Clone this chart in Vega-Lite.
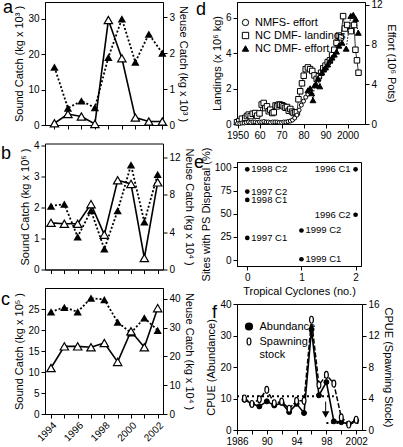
{
  "$schema": "https://vega.github.io/schema/vega-lite/v6.json",
  "padding": {"left": 0, "top": -2, "right": 0, "bottom": 0},
  "background": "white",
  "config": {
    "font": "Liberation Sans",
    "view": {"stroke": "black", "strokeWidth": 1},
    "axis": {"domainColor": "black", "domainWidth": 1, "tickColor": "black", "tickWidth": 1, "tickSize": 4, "labelColor": "black", "labelFontSize": 10, "labelPadding": 2, "titleColor": "black", "titleFontSize": 11, "titleFontWeight": "normal", "titlePadding": 3, "grid": false, "labelFlush": false, "labelOverlap": false},
    "title": {"fontSize": 18, "fontWeight": "normal", "color": "black", "anchor": "start", "frame": "group", "offset": 0, "baseline": "alphabetic"}
  },
  "datasets": {
    "a": [
      {"year": 1994, "sound": 0.5, "neuse": 1.61}, {"year": 1995, "sound": 3.1, "neuse": 0.47}, {"year": 1996, "sound": 2.4, "neuse": 0.67},
      {"year": 1997, "sound": 0.3, "neuse": 0.48}, {"year": 1998, "sound": 29.7, "neuse": 1.88}, {"year": 1999, "sound": 18.9, "neuse": 2.95},
      {"year": 2000, "sound": 2.1, "neuse": 1.75}, {"year": 2001, "sound": 1.0, "neuse": 2.53}, {"year": 2002, "sound": 1.0, "neuse": 2.0}
    ],
    "b": [
      {"year": 1994, "sound": 1.5, "neuse": 6.8}, {"year": 1995, "sound": 1.47, "neuse": 7.0}, {"year": 1996, "sound": 1.47, "neuse": 3.5},
      {"year": 1997, "sound": 2.1, "neuse": 6.3}, {"year": 1998, "sound": 1.12, "neuse": 2.2}, {"year": 1999, "sound": 2.87, "neuse": 6.3},
      {"year": 2000, "sound": 2.75, "neuse": 11.2}, {"year": 2001, "sound": 0.37, "neuse": 5.1}, {"year": 2002, "sound": 2.8, "neuse": 10.2}
    ],
    "c": [
      {"year": 1994, "sound": 10.95, "neuse": 35.5}, {"year": 1995, "sound": 16.1, "neuse": 37.1}, {"year": 1996, "sound": 16.1, "neuse": 35.5},
      {"year": 1997, "sound": 15.9, "neuse": 40.3}, {"year": 1998, "sound": 16.9, "neuse": 39.8}, {"year": 1999, "sound": 12.4, "neuse": 31.9},
      {"year": 2000, "sound": 19.7, "neuse": 28.2}, {"year": 2001, "sound": 15.9, "neuse": 33.4}, {"year": 2002, "sound": 25.2, "neuse": 29.1}
    ],
    "d_land": [
      {"year": 1949.8, "landings": 0.1}, {"year": 1950.8, "landings": 0.15}, {"year": 1952.0, "landings": 0.3}, {"year": 1953.5, "landings": 0.34},
      {"year": 1954.3, "landings": 0.45}, {"year": 1955.1, "landings": 0.53}, {"year": 1956.0, "landings": 0.45}, {"year": 1956.9, "landings": 0.58},
      {"year": 1958.0, "landings": 0.62}, {"year": 1958.9, "landings": 0.47}, {"year": 1960.0, "landings": 0.6}, {"year": 1961.0, "landings": 1.1},
      {"year": 1961.9, "landings": 1.19}, {"year": 1962.6, "landings": 0.9}, {"year": 1963.4, "landings": 1.0}, {"year": 1964.2, "landings": 0.72},
      {"year": 1964.9, "landings": 0.81}, {"year": 1965.8, "landings": 0.62}, {"year": 1966.5, "landings": 0.66}, {"year": 1967.3, "landings": 1.05},
      {"year": 1968.0, "landings": 1.0}, {"year": 1968.8, "landings": 1.1}, {"year": 1969.5, "landings": 1.09}, {"year": 1970.3, "landings": 1.06},
      {"year": 1971.0, "landings": 1.0}, {"year": 1971.8, "landings": 0.92}, {"year": 1972.5, "landings": 0.96}, {"year": 1973.3, "landings": 0.75},
      {"year": 1974.0, "landings": 0.85}, {"year": 1974.8, "landings": 0.7}, {"year": 1975.5, "landings": 0.62}, {"year": 1976.3, "landings": 0.66},
      {"year": 1977.0, "landings": 0.66}, {"year": 1977.7, "landings": 1.4}, {"year": 1978.5, "landings": 1.85}, {"year": 1979.3, "landings": 2.3},
      {"year": 1980.1, "landings": 2.73}, {"year": 1981.0, "landings": 3.1}, {"year": 1982.0, "landings": 3.2}, {"year": 1983.0, "landings": 3.1},
      {"year": 1984.0, "landings": 3.0}, {"year": 1985.0, "landings": 2.75}, {"year": 1986.0, "landings": 2.55}, {"year": 1987.0, "landings": 2.7},
      {"year": 1988.0, "landings": 2.9}, {"year": 1989.0, "landings": 3.15}, {"year": 1990.0, "landings": 3.3}, {"year": 1991.0, "landings": 3.5},
      {"year": 1992.0, "landings": 3.6}, {"year": 1993.0, "landings": 3.9}, {"year": 1994.0, "landings": 4.2}, {"year": 1995.0, "landings": 4.6},
      {"year": 1996.0, "landings": 5.0}, {"year": 1997.0, "landings": 4.9}, {"year": 1998.0, "landings": 6.1}, {"year": 1998.8, "landings": 5.4},
      {"year": 1999.9, "landings": 5.6}, {"year": 2001.5, "landings": 5.25}, {"year": 2003.0, "landings": 5.6}, {"year": 2003.6, "landings": 4.2},
      {"year": 2004.3, "landings": 3.6}, {"year": 2005.0, "landings": 2.9}
    ],
    "d_nmfs": [
      {"year": 1950, "effort": 0.05}, {"year": 1951, "effort": 0.05}, {"year": 1952, "effort": 0.1}, {"year": 1953, "effort": 0.1},
      {"year": 1954, "effort": 0.15}, {"year": 1955, "effort": 0.2}, {"year": 1956, "effort": 0.15}, {"year": 1957, "effort": 0.2},
      {"year": 1958, "effort": 0.2}, {"year": 1959, "effort": 0.15}, {"year": 1960, "effort": 0.2}, {"year": 1961, "effort": 0.2},
      {"year": 1962, "effort": 0.25}, {"year": 1963, "effort": 0.2}, {"year": 1964, "effort": 0.2}, {"year": 1965, "effort": 0.15},
      {"year": 1966, "effort": 0.2}, {"year": 1967, "effort": 0.2}, {"year": 1968, "effort": 0.2}, {"year": 1969, "effort": 0.15},
      {"year": 1970, "effort": 0.15}, {"year": 1971, "effort": 0.2}, {"year": 1972, "effort": 0.2}, {"year": 1973, "effort": 0.25},
      {"year": 1974, "effort": 0.3}, {"year": 1975, "effort": 0.4}, {"year": 1976, "effort": 0.6}, {"year": 1977, "effort": 0.9},
      {"year": 1978, "effort": 1.4}, {"year": 1979, "effort": 1.9}, {"year": 1980, "effort": 2.3}, {"year": 1981, "effort": 2.7},
      {"year": 1982, "effort": 3.0}, {"year": 1983, "effort": 3.2}
    ],
    "d_dmf": [
      {"year": 1982.0, "effort": 3.4}, {"year": 1983.0, "effort": 3.6}, {"year": 1983.7, "effort": 3.1}, {"year": 1984.3, "effort": 2.4},
      {"year": 1985.0, "effort": 3.9}, {"year": 1985.7, "effort": 4.0}, {"year": 1986.6, "effort": 4.6}, {"year": 1987.4, "effort": 3.8},
      {"year": 1988.3, "effort": 5.2}, {"year": 1989.2, "effort": 5.5}, {"year": 1990.0, "effort": 5.7}, {"year": 1991.0, "effort": 6.0},
      {"year": 1992.0, "effort": 6.4}, {"year": 1993.0, "effort": 6.7}, {"year": 1994.0, "effort": 7.0}, {"year": 1995.0, "effort": 7.3},
      {"year": 1996.1, "effort": 7.9}, {"year": 1997.5, "effort": 8.2}, {"year": 1999.4, "effort": 7.6}, {"year": 2001.5, "effort": 10.9},
      {"year": 2002.6, "effort": 11.0}, {"year": 2003.7, "effort": 10.6}, {"year": 2004.9, "effort": 9.2}
    ],
    "e": [
      {"cyclones": 0, "sites": 98, "label": "1998 C2"}, {"cyclones": 0, "sites": 74, "label": "1997 C2"},
      {"cyclones": 0, "sites": 65, "label": "1998 C1"}, {"cyclones": 0, "sites": 24, "label": "1997 C1"},
      {"cyclones": 2, "sites": 98, "label": "1996 C1"}, {"cyclones": 2, "sites": 49, "label": "1996 C2"},
      {"cyclones": 1, "sites": 32, "label": "1999 C2"}, {"cyclones": 1, "sites": 1, "label": "1999 C1"}
    ],
    "f_abund": [
      {"year": 1987, "cpue": 9.6, "series": "Abundance"}, {"year": 1988, "cpue": 8.3, "series": "Abundance"}, {"year": 1989, "cpue": 7.5, "series": "Abundance"},
      {"year": 1990, "cpue": 9.1, "series": "Abundance"}, {"year": 1991, "cpue": 7.8, "series": "Abundance"}, {"year": 1992, "cpue": 8.6, "series": "Abundance"},
      {"year": 1993, "cpue": 5.7, "series": "Abundance"}, {"year": 1994, "cpue": 8.3, "series": "Abundance"}, {"year": 1995, "cpue": 5.4, "series": "Abundance"},
      {"year": 1996, "cpue": 31.9, "series": "Abundance"}, {"year": 1997, "cpue": 11.0, "series": "Abundance"}, {"year": 1998, "cpue": 15.2, "series": "Abundance"},
      {"year": 1999, "cpue": 2.75, "series": "Abundance"}, {"year": 2000, "cpue": 2.5, "series": "Abundance"}, {"year": 2001, "cpue": 1.9, "series": "Abundance"},
      {"year": 2002, "cpue": 3.0, "series": "Abundance"}
    ],
    "f_spawn": [
      {"year": 1987, "cpue": 4.0, "series": "Spawning stock"}, {"year": 1988, "cpue": 3.3, "series": "Spawning stock"}, {"year": 1989, "cpue": 3.9, "series": "Spawning stock"},
      {"year": 1990, "cpue": 5.1, "series": "Spawning stock"}, {"year": 1991, "cpue": 3.4, "series": "Spawning stock"}, {"year": 1992, "cpue": 3.6, "series": "Spawning stock"},
      {"year": 1993, "cpue": 2.7, "series": "Spawning stock"}, {"year": 1994, "cpue": 3.7, "series": "Spawning stock"}, {"year": 1995, "cpue": 3.7, "series": "Spawning stock"},
      {"year": 1996, "cpue": 14.0, "series": "Spawning stock"}, {"year": 1997, "cpue": 5.7, "series": "Spawning stock"}, {"year": 1998, "cpue": 7.0, "series": "Spawning stock"},
      {"year": 1999, "cpue": 5.9, "series": "Spawning stock"}, {"year": 2000, "cpue": 1.6, "series": "Spawning stock"}, {"year": 2001, "cpue": 0.7, "series": "Spawning stock"},
      {"year": 2002, "cpue": 1.3, "series": "Spawning stock"}
    ],
    "f_ref": [
      {"year": 1986, "end": 1999, "cpue": 10.7},
      {"year": 1998, "end": 2002.7, "cpue": 2.2}
    ],
    "f_arrow": [
      {"year": 1997.9, "cpue": 9.0, "to": 5.8, "head": 4.9}
    ]
  },
  "resolve": {"scale": {"shape": "independent", "fill": "independent", "stroke": "independent"}, "legend": {"shape": "independent", "fill": "independent", "stroke": "independent"}},
  "hconcat": [
    {
      "bounds": "flush",
      "spacing": 18.5,
      "vconcat": [
        {
          "width": 118, "height": 123,
          "title": {"text": "a", "dx": -42, "dy": 19},
          "data": {"name": "a"},
          "layer": [
            {
              "encoding": {
                "x": {"field": "year", "type": "quantitative", "scale": {"domain": [1993.3, 2002.05], "nice": false, "zero": false}, "axis": {"values": [1994, 1995, 1996, 1997, 1998, 1999, 2000, 2001, 2002], "labels": false, "title": null}},
                "y": {"field": "neuse", "type": "quantitative", "scale": {"domain": [0, 3.42], "nice": false}, "axis": {"orient": "right", "values": [0, 1, 2, 3], "title": "Neuse Catch (kg x 10³ )"}}
              },
              "layer": [
                {"mark": {"type": "line", "color": "black", "strokeWidth": 1.8, "strokeDash": [2, 2]}},
                {"mark": {"type": "point", "shape": "triangle-up", "filled": true, "color": "black", "size": 70, "opacity": 1}}
              ]
            },
            {
              "encoding": {
                "x": {"field": "year", "type": "quantitative", "scale": {"domain": [1993.3, 2002.05], "nice": false, "zero": false}, "axis": {"values": [1994, 1995, 1996, 1997, 1998, 1999, 2000, 2001, 2002], "labels": false, "title": null}},
                "y": {"field": "sound", "type": "quantitative", "scale": {"domain": [0, 34.8], "nice": false}, "axis": {"orient": "left", "values": [0, 10, 20, 30], "title": "Sound Catch (kg x 10³ )"}}
              },
              "layer": [
                {"mark": {"type": "line", "color": "black", "strokeWidth": 1.6}},
                {"mark": {"type": "point", "shape": "triangle-up", "filled": true, "fill": "white", "stroke": "black", "strokeWidth": 1.2, "size": 70, "opacity": 1}}
              ]
            }
          ],
          "resolve": {"scale": {"y": "independent"}}
        },
        {
          "width": 118, "height": 126,
          "title": {"text": "b", "dx": -44, "dy": 26.5},
          "data": {"name": "b"},
          "layer": [
            {
              "encoding": {
                "x": {"field": "year", "type": "quantitative", "scale": {"domain": [1993.55, 2002.4], "nice": false, "zero": false}, "axis": {"values": [1994, 1995, 1996, 1997, 1998, 1999, 2000, 2001, 2002], "labels": false, "title": null}},
                "y": {"field": "neuse", "type": "quantitative", "scale": {"domain": [0, 13.5], "nice": false}, "axis": {"orient": "right", "values": [0, 4, 8, 12], "title": "Neuse Catch (kg x 10⁴ )"}}
              },
              "layer": [
                {"mark": {"type": "line", "color": "black", "strokeWidth": 1.8, "strokeDash": [2, 2]}},
                {"mark": {"type": "point", "shape": "triangle-up", "filled": true, "color": "black", "size": 70, "opacity": 1}}
              ]
            },
            {
              "encoding": {
                "x": {"field": "year", "type": "quantitative", "scale": {"domain": [1993.55, 2002.4], "nice": false, "zero": false}, "axis": {"values": [1994, 1995, 1996, 1997, 1998, 1999, 2000, 2001, 2002], "labels": false, "title": null}},
                "y": {"field": "sound", "type": "quantitative", "scale": {"domain": [0, 4.05], "nice": false}, "axis": {"orient": "left", "values": [0, 1, 2, 3, 4], "title": "Sound Catch (kg x 10⁶ )"}}
              },
              "layer": [
                {"mark": {"type": "line", "color": "black", "strokeWidth": 1.6}},
                {"mark": {"type": "point", "shape": "triangle-up", "filled": true, "fill": "white", "stroke": "black", "strokeWidth": 1.2, "size": 70, "opacity": 1}}
              ]
            }
          ],
          "resolve": {"scale": {"y": "independent"}}
        },
        {
          "width": 118, "height": 126,
          "title": {"text": "c", "dx": -44, "dy": 25},
          "data": {"name": "c"},
          "layer": [
            {
              "encoding": {
                "x": {"field": "year", "type": "quantitative", "scale": {"domain": [1993.55, 2002.4], "nice": false, "zero": false}, "axis": {"values": [1994, 1995, 1996, 1997, 1998, 1999, 2000, 2001, 2002], "format": "d", "labelExpr": "datum.value % 2 === 0 ? datum.label : ''", "labelAngle": -45, "title": null}},
                "y": {"field": "neuse", "type": "quantitative", "scale": {"domain": [0, 43.8], "nice": false}, "axis": {"orient": "right", "values": [0, 10, 20, 30, 40], "title": "Neuse Catch (kg x 10⁴ )"}}
              },
              "layer": [
                {"mark": {"type": "line", "color": "black", "strokeWidth": 1.8, "strokeDash": [2, 2]}},
                {"mark": {"type": "point", "shape": "triangle-up", "filled": true, "color": "black", "size": 70, "opacity": 1}}
              ]
            },
            {
              "encoding": {
                "x": {"field": "year", "type": "quantitative", "scale": {"domain": [1993.55, 2002.4], "nice": false, "zero": false}, "axis": {"values": [1994, 1995, 1996, 1997, 1998, 1999, 2000, 2001, 2002], "format": "d", "labelExpr": "datum.value % 2 === 0 ? datum.label : ''", "labelAngle": -45, "title": null}},
                "y": {"field": "sound", "type": "quantitative", "scale": {"domain": [0, 30], "nice": false}, "axis": {"orient": "left", "values": [0, 5, 10, 15, 20, 25], "title": "Sound Catch (kg x 10⁵ )"}}
              },
              "layer": [
                {"mark": {"type": "line", "color": "black", "strokeWidth": 1.6}},
                {"mark": {"type": "point", "shape": "triangle-up", "filled": true, "fill": "white", "stroke": "black", "strokeWidth": 1.2, "size": 70, "opacity": 1}}
              ]
            }
          ],
          "resolve": {"scale": {"y": "independent"}}
        }
      ]
    },
    {
      "bounds": "flush",
      "spacing": 38,
      "resolve": {"scale": {"shape": "independent", "fill": "independent", "stroke": "independent"}, "legend": {"shape": "independent", "fill": "independent", "stroke": "independent"}},
      "vconcat": [
        {
          "width": 128, "height": 122,
          "title": {"text": "d", "dx": -41, "dy": 23},
          "layer": [
            {
              "data": {"name": "d_land"},
              "encoding": {
                "x": {"field": "year", "type": "quantitative", "scale": {"domain": [1949.77, 2007.95], "nice": false, "zero": false}, "axis": {"values": [1950, 1960, 1970, 1980, 1990, 2000], "format": "d", "labelExpr": "(datum.value === 1950 || datum.value === 2000) ? datum.label : slice(datum.label, 2)", "title": null}},
                "y": {"field": "landings", "type": "quantitative", "scale": {"domain": [0, 6.9], "nice": false}, "axis": {"orient": "left", "values": [0, 2, 4, 6], "title": "Landings (x 10⁶ kg)"}}
              },
              "layer": [
                {"mark": {"type": "line", "color": "black", "strokeWidth": 0.8}},
                {"mark": {"type": "point", "filled": true, "strokeWidth": 1, "size": 30, "opacity": 1},
                 "encoding": {
                   "shape": {"datum": "NC DMF- landings", "scale": {"domain": ["NMFS- effort", "NC DMF- landings", "NC DMF- effort"], "range": ["circle", "square", "triangle-up"]},
                     "legend": {"title": null, "orient": "none", "legendX": 3, "legendY": 15, "padding": 0, "symbolSize": 40, "labelFontSize": 11, "labelColor": "black", "labelOffset": 4, "rowPadding": 1, "symbolStrokeWidth": 1}},
                   "fill": {"datum": "NC DMF- landings", "scale": {"domain": ["NMFS- effort", "NC DMF- landings", "NC DMF- effort"], "range": ["white", "white", "black"]},
                     "legend": {"title": null, "orient": "none", "legendX": 3, "legendY": 15, "padding": 0, "symbolSize": 40, "labelFontSize": 11, "labelColor": "black", "labelOffset": 4, "rowPadding": 1, "symbolStrokeWidth": 1}},
                   "stroke": {"datum": "NC DMF- landings", "scale": {"domain": ["NMFS- effort", "NC DMF- landings", "NC DMF- effort"], "range": ["black", "black", "black"]},
                     "legend": {"title": null, "orient": "none", "legendX": 3, "legendY": 15, "padding": 0, "symbolSize": 40, "labelFontSize": 11, "labelColor": "black", "labelOffset": 4, "rowPadding": 1, "symbolStrokeWidth": 1}}
                 }}
              ]
            },
            {
              "encoding": {
                "x": {"field": "year", "type": "quantitative", "scale": {"domain": [1949.77, 2007.95], "nice": false, "zero": false}, "axis": {"values": [1950, 1960, 1970, 1980, 1990, 2000], "format": "d", "labelExpr": "(datum.value === 1950 || datum.value === 2000) ? datum.label : slice(datum.label, 2)", "title": null}},
                "y": {"field": "effort", "type": "quantitative", "scale": {"domain": [0, 12.3], "nice": false}, "axis": {"orient": "right", "values": [0, 4, 8, 12], "title": "Effort (10⁶ Pots)"}}
              },
              "layer": [
                {"data": {"name": "d_nmfs"}, "mark": {"type": "line", "color": "black", "strokeWidth": 0.8}},
                {"data": {"name": "d_nmfs"}, "mark": {"type": "point", "filled": true, "strokeWidth": 1, "size": 16, "opacity": 1},
                 "encoding": {
                   "shape": {"datum": "NMFS- effort", "scale": {"domain": ["NMFS- effort", "NC DMF- landings", "NC DMF- effort"], "range": ["circle", "square", "triangle-up"]},
                     "legend": {"title": null, "orient": "none", "legendX": 3, "legendY": 15, "padding": 0, "symbolSize": 40, "labelFontSize": 11, "labelColor": "black", "labelOffset": 4, "rowPadding": 1, "symbolStrokeWidth": 1}},
                   "fill": {"datum": "NMFS- effort", "scale": {"domain": ["NMFS- effort", "NC DMF- landings", "NC DMF- effort"], "range": ["white", "white", "black"]},
                     "legend": {"title": null, "orient": "none", "legendX": 3, "legendY": 15, "padding": 0, "symbolSize": 40, "labelFontSize": 11, "labelColor": "black", "labelOffset": 4, "rowPadding": 1, "symbolStrokeWidth": 1}},
                   "stroke": {"datum": "NMFS- effort", "scale": {"domain": ["NMFS- effort", "NC DMF- landings", "NC DMF- effort"], "range": ["black", "black", "black"]},
                     "legend": {"title": null, "orient": "none", "legendX": 3, "legendY": 15, "padding": 0, "symbolSize": 40, "labelFontSize": 11, "labelColor": "black", "labelOffset": 4, "rowPadding": 1, "symbolStrokeWidth": 1}}
                 }},
                {"data": {"name": "d_dmf"}, "mark": {"type": "line", "color": "black", "strokeWidth": 1, "strokeDash": [1.5, 1.5]}},
                {"data": {"name": "d_dmf"}, "mark": {"type": "point", "filled": true, "strokeWidth": 1, "size": 34, "opacity": 1},
                 "encoding": {
                   "shape": {"datum": "NC DMF- effort", "scale": {"domain": ["NMFS- effort", "NC DMF- landings", "NC DMF- effort"], "range": ["circle", "square", "triangle-up"]},
                     "legend": {"title": null, "orient": "none", "legendX": 3, "legendY": 15, "padding": 0, "symbolSize": 40, "labelFontSize": 11, "labelColor": "black", "labelOffset": 4, "rowPadding": 1, "symbolStrokeWidth": 1}},
                   "fill": {"datum": "NC DMF- effort", "scale": {"domain": ["NMFS- effort", "NC DMF- landings", "NC DMF- effort"], "range": ["white", "white", "black"]},
                     "legend": {"title": null, "orient": "none", "legendX": 3, "legendY": 15, "padding": 0, "symbolSize": 40, "labelFontSize": 11, "labelColor": "black", "labelOffset": 4, "rowPadding": 1, "symbolStrokeWidth": 1}},
                   "stroke": {"datum": "NC DMF- effort", "scale": {"domain": ["NMFS- effort", "NC DMF- landings", "NC DMF- effort"], "range": ["black", "black", "black"]},
                     "legend": {"title": null, "orient": "none", "legendX": 3, "legendY": 15, "padding": 0, "symbolSize": 40, "labelFontSize": 11, "labelColor": "black", "labelOffset": 4, "rowPadding": 1, "symbolStrokeWidth": 1}}
                 }}
              ]
            }
          ],
          "resolve": {"scale": {"y": "independent"}}
        },
        {
          "width": 124, "height": 104,
          "title": {"text": "e", "dx": -43, "dy": 28.5},
          "data": {"name": "e"},
          "encoding": {
            "x": {"field": "cyclones", "type": "quantitative", "scale": {"domain": [-0.19, 2.1], "nice": false, "zero": false}, "axis": {"values": [0, 1, 2], "format": "d", "title": "Tropical Cyclones (no.)"}},
            "y": {"field": "sites", "type": "quantitative", "scale": {"domain": [-6.3, 105.9], "nice": false, "zero": false}, "axis": {"values": [0, 25, 50, 75, 100], "title": "Sites with PS Dispersal (%)"}}
          },
          "layer": [
            {"mark": {"type": "point", "filled": true, "color": "black", "size": 22, "opacity": 1}},
            {"transform": [{"filter": "datum.cyclones < 2"}], "mark": {"type": "text", "align": "left", "baseline": "middle", "dx": 4, "fontSize": 9.5, "color": "black"}, "encoding": {"text": {"field": "label"}}},
            {"transform": [{"filter": "datum.cyclones >= 2"}], "mark": {"type": "text", "align": "right", "baseline": "middle", "dx": -5, "fontSize": 9.5, "color": "black"}, "encoding": {"text": {"field": "label"}}}
          ]
        },
        {
          "width": 125, "height": 126,
          "title": {"text": "f", "dx": -25, "dy": 27},
          "layer": [
            {
              "encoding": {
                "x": {"field": "year", "type": "quantitative", "scale": {"domain": [1986, 2002.78], "nice": false, "zero": false}, "axis": {"values": [1986, 1988, 1990, 1992, 1994, 1996, 1998, 2000, 2002], "format": "d", "labelExpr": "datum.value % 4 === 2 ? ((datum.value === 1986 || datum.value === 2002) ? datum.label : slice(datum.label, 2)) : ''", "title": null}},
                "y": {"field": "cpue", "type": "quantitative", "scale": {"domain": [0, 40], "nice": false}, "axis": {"orient": "left", "values": [0, 10, 20, 30, 40], "title": "CPUE (Abundance)"}}
              },
              "layer": [
                {"data": {"name": "f_ref"}, "mark": {"type": "rule", "color": "black", "strokeWidth": 2, "strokeDash": [2, 3]},
                 "encoding": {"x2": {"field": "end"}}},
                {"data": {"name": "f_abund"}, "mark": {"type": "line", "color": "black", "strokeWidth": 1.6}},
                {"data": {"name": "f_abund"}, "mark": {"type": "point", "filled": true, "strokeWidth": 1, "size": 25, "opacity": 1},
                 "encoding": {
                   "shape": {"field": "series", "type": "nominal", "scale": {"domain": ["Abundance", "Spawning stock"], "range": ["circle", "M0,-1C0.73,-1,0.73,1,0,1C-0.73,1,-0.73,-1,0,-1Z"]},
                     "legend": {"title": null, "orient": "none", "legendX": 6.5, "legendY": 17, "padding": 0, "symbolSize": 49, "labelFontSize": 11, "labelColor": "black", "labelOffset": 5, "rowPadding": 2, "symbolStrokeWidth": 1.2, "labelExpr": "datum.label === 'Spawning stock' ? ['Spawning', 'stock'] : datum.label"}},
                   "fill": {"field": "series", "type": "nominal", "scale": {"domain": ["Abundance", "Spawning stock"], "range": ["black", "white"]},
                     "legend": {"title": null, "orient": "none", "legendX": 6.5, "legendY": 17, "padding": 0, "symbolSize": 49, "labelFontSize": 11, "labelColor": "black", "labelOffset": 5, "rowPadding": 2, "symbolStrokeWidth": 1.2, "labelExpr": "datum.label === 'Spawning stock' ? ['Spawning', 'stock'] : datum.label"}},
                   "stroke": {"field": "series", "type": "nominal", "scale": {"domain": ["Abundance", "Spawning stock"], "range": ["black", "black"]},
                     "legend": {"title": null, "orient": "none", "legendX": 6.5, "legendY": 17, "padding": 0, "symbolSize": 49, "labelFontSize": 11, "labelColor": "black", "labelOffset": 5, "rowPadding": 2, "symbolStrokeWidth": 1.2, "labelExpr": "datum.label === 'Spawning stock' ? ['Spawning', 'stock'] : datum.label"}}
                 }},
                {"data": {"name": "f_arrow"}, "mark": {"type": "rule", "color": "black", "strokeWidth": 1},
                 "encoding": {"y2": {"field": "to"}}},
                {"data": {"name": "f_arrow"}, "mark": {"type": "point", "shape": "triangle-down", "filled": true, "color": "black", "size": 55, "opacity": 1},
                 "encoding": {"y": {"field": "head", "type": "quantitative", "scale": {"domain": [0, 40], "nice": false}, "axis": {"orient": "left", "values": [0, 10, 20, 30, 40], "title": "CPUE (Abundance)"}}}}
              ]
            },
            {
              "data": {"name": "f_spawn"},
              "encoding": {
                "x": {"field": "year", "type": "quantitative", "scale": {"domain": [1986, 2002.78], "nice": false, "zero": false}, "axis": {"values": [1986, 1988, 1990, 1992, 1994, 1996, 1998, 2000, 2002], "format": "d", "labelExpr": "datum.value % 4 === 2 ? ((datum.value === 1986 || datum.value === 2002) ? datum.label : slice(datum.label, 2)) : ''", "title": null}},
                "y": {"field": "cpue", "type": "quantitative", "scale": {"domain": [0, 16], "nice": false}, "axis": {"orient": "right", "values": [0, 4, 8, 12, 16], "title": "CPUE (Spawning Stock)"}}
              },
              "layer": [
                {"mark": {"type": "line", "color": "black", "strokeWidth": 1.5, "strokeDash": [5, 2]}},
                {"mark": {"type": "point", "filled": true, "strokeWidth": 1.2, "size": 49, "opacity": 1},
                 "encoding": {
                   "shape": {"field": "series", "type": "nominal", "scale": {"domain": ["Abundance", "Spawning stock"], "range": ["circle", "M0,-1C0.73,-1,0.73,1,0,1C-0.73,1,-0.73,-1,0,-1Z"]},
                     "legend": {"title": null, "orient": "none", "legendX": 6.5, "legendY": 17, "padding": 0, "symbolSize": 49, "labelFontSize": 11, "labelColor": "black", "labelOffset": 5, "rowPadding": 2, "symbolStrokeWidth": 1.2, "labelExpr": "datum.label === 'Spawning stock' ? ['Spawning', 'stock'] : datum.label"}},
                   "fill": {"field": "series", "type": "nominal", "scale": {"domain": ["Abundance", "Spawning stock"], "range": ["black", "white"]},
                     "legend": {"title": null, "orient": "none", "legendX": 6.5, "legendY": 17, "padding": 0, "symbolSize": 49, "labelFontSize": 11, "labelColor": "black", "labelOffset": 5, "rowPadding": 2, "symbolStrokeWidth": 1.2, "labelExpr": "datum.label === 'Spawning stock' ? ['Spawning', 'stock'] : datum.label"}},
                   "stroke": {"field": "series", "type": "nominal", "scale": {"domain": ["Abundance", "Spawning stock"], "range": ["black", "black"]},
                     "legend": {"title": null, "orient": "none", "legendX": 6.5, "legendY": 17, "padding": 0, "symbolSize": 49, "labelFontSize": 11, "labelColor": "black", "labelOffset": 5, "rowPadding": 2, "symbolStrokeWidth": 1.2, "labelExpr": "datum.label === 'Spawning stock' ? ['Spawning', 'stock'] : datum.label"}}
                 }}
              ]
            }
          ],
          "resolve": {"scale": {"y": "independent"}}
        }
      ]
    }
  ],
  "spacing": -2
}
